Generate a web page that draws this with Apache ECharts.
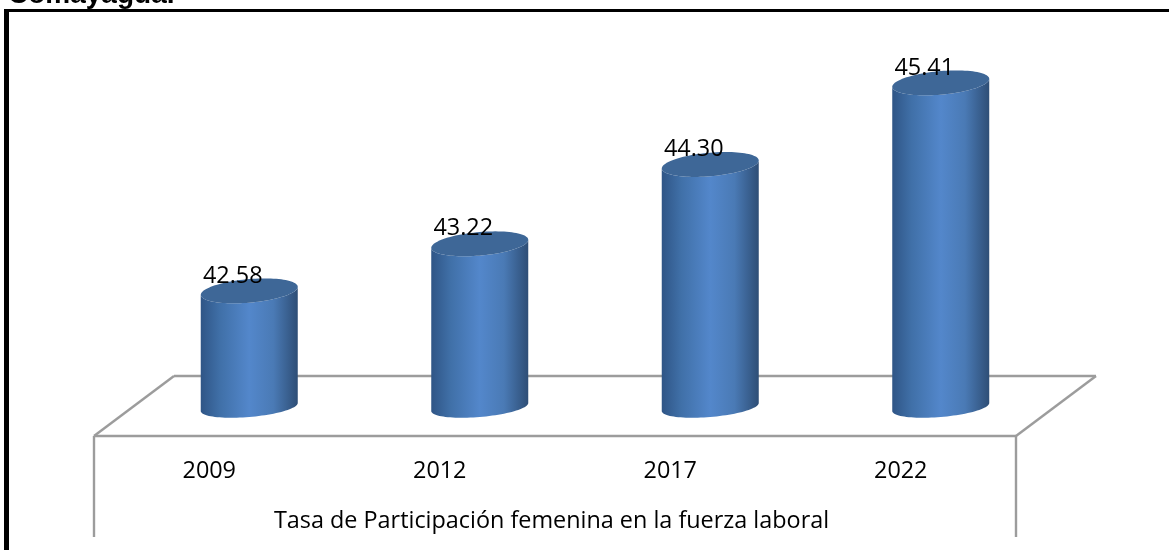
<!DOCTYPE html>
<html>
<head>
<meta charset="utf-8">
<style>html,body{margin:0;padding:0;background:#fff}#c{width:1169px;height:550px}</style>
<script src="https://cdn.jsdelivr.net/npm/echarts@6/dist/echarts.min.js"></script>
</head>
<body>
<div id="c"></div>
<script>
const categories = ['2009', '2012', '2017', '2022'];
const rates = [42.58, 43.22, 44.30, 45.41];
const seriesName = 'Tasa de Participación femenina en la fuerza laboral';
const titleFragment = 'Comayagua.';

const chart = echarts.init(document.getElementById('c'), null, {renderer: 'canvas'});
const FONT = '"Open Sans"';
const gridL = 94, gridW = 922, gridT = 39.5, gridH = 367.5;
const depthX = 40;
const rx = 48.5, ryTop = 11.8, ryBase = 10, tilt = 4;

function ellipsePts(cx, cy, ry, a0, a1, n) {
  const pts = [];
  for (let i = 0; i <= n; i++) {
    const t = a0 + (a1 - a0) * i / n;
    pts.push([cx + rx * Math.cos(t), cy + ry * Math.sin(t) - tilt * Math.cos(t)]);
  }
  return pts;
}

function cylinder(params, api) {
  const idx = api.value(0);
  const top = api.coord([idx, api.value(1)]);
  const base = api.coord([idx, 41]);
  const cx = top[0] + depthX;
  const body = ellipsePts(cx, base[1], ryBase, 0, Math.PI, 48).concat(ellipsePts(cx, top[1], ryTop, Math.PI, 0, 48));
  return {
    type: 'group',
    children: [
      {
        type: 'polygon',
        shape: {points: body},
        style: {
          fill: new echarts.graphic.LinearGradient(0, 0, 1, 0, [
            {offset: 0, color: '#2f5586'},
            {offset: 0.2, color: '#4070a8'},
            {offset: 0.5, color: '#5387cb'},
            {offset: 0.75, color: '#4a7ab5'},
            {offset: 1, color: '#2e4e76'}
          ])
        }
      },
      {
        type: 'polygon',
        shape: {points: ellipsePts(cx, top[1], ryTop, 0, Math.PI * 2, 96)},
        style: {fill: '#3e6797'}
      },
      {
        type: 'text',
        style: {
          x: cx - 16.5,
          y: top[1] - 15,
          text: api.value(1).toFixed(2),
          font: '23.4px ' + FONT,
          fill: '#000',
          align: 'center',
          verticalAlign: 'middle'
        }
      }
    ]
  };
}

const gray = {stroke: '#9c9c9c', lineWidth: 2.4};
function seg(x1, y1, x2, y2) {
  return {type: 'line', shape: {x1, y1, x2, y2}, style: gray, silent: true, z: 0};
}

chart.setOption({
  animation: false,
  grid: {left: gridL, width: gridW, top: gridT, height: gridH},
  xAxis: {
    type: 'category',
    data: categories,
    offset: 29,
    name: seriesName,
    nameLocation: 'middle',
    nameGap: 74,
    nameTextStyle: {fontFamily: FONT, fontSize: 23.4, color: '#000', padding: [0, 7, 0, 0]},
    axisLine: {show: false},
    axisTick: {show: false},
    axisLabel: {fontFamily: FONT, fontSize: 23.4, color: '#000', margin: 24}
  },
  yAxis: {type: 'value', min: 41, max: 46, show: false, splitLine: {show: false}},
  graphic: [
    seg(94, 436, 174, 376), seg(174, 376, 1096, 376), seg(1096, 376, 1016, 436),
    seg(94, 436, 1016, 436), seg(94, 436, 94, 537), seg(1016, 436, 1016, 537),
    {type: 'rect', shape: {x: 4, y: 9, width: 5, height: 541}, style: {fill: '#000'}, silent: true},
    {type: 'rect', shape: {x: 4, y: 9, width: 1165, height: 3}, style: {fill: '#000'}, silent: true},
    {type: 'text', style: {x: 8, y: 9, text: titleFragment, font: 'bold 28px "Liberation Sans"', fill: '#000', verticalAlign: 'bottom', align: 'left'}, silent: true}
  ],
  series: [{
    type: 'custom',
    name: seriesName,
    coordinateSystem: 'cartesian2d',
    renderItem: cylinder,
    clip: false,
    encode: {x: 0, y: 1},
    data: rates.map((v, i) => [i, v]),
    z: 5
  }]
});
</script>
</body>
</html>
